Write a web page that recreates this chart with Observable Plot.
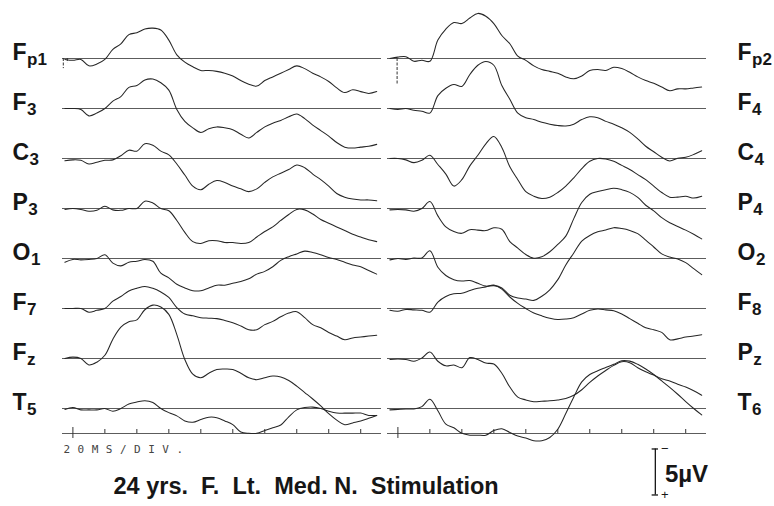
<!DOCTYPE html>
<html>
<head>
<meta charset="utf-8">
<script src="https://cdn.jsdelivr.net/npm/d3@7"></script>
<script src="https://cdn.jsdelivr.net/npm/@observablehq/plot@0.6"></script>
<style>
  html, body { margin: 0; padding: 0; background: #fff; }
  #chart { width: 774px; height: 506px; }
</style>
</head>
<body>
<div id="chart"></div>
<script>
// ---- data (µV, negative = up, EEG convention) ----
const times = [-5, 0, 5, 10, 15, 20, 25, 30, 35, 40, 45, 50, 55, 60, 65, 70, 75, 80, 85, 90,
               95, 100, 105, 110, 115, 120, 125, 130, 135, 140, 145, 150, 155, 160, 165, 170, 175, 180, 185, 190];

const leftChannels  = ["Fp1", "F3", "C3", "P3", "O1", "F7", "Fz", "T5"];
const rightChannels = ["Fp2", "F4", "C4", "P4", "O2", "F8", "Pz", "T6"];

const Fp1 = [0.1, 0.2, 0.1, 0.8, 0.6, 0.1, -1.0, -1.6, -2.6, -2.8, -3.2, -3.3, -3.1, -2.0, -0.4, 0.4, 0.9, 1.3, 1.3, 1.4,
             1.6, 1.9, 2.4, 2.8, 3.0, 2.4, 2.0, 1.6, 1.2, 0.8, 1.1, 1.6, 2.0, 2.5, 3.2, 3.7, 3.4, 3.6, 3.8, 3.6];
const F3  = [0, 0, 0.1, 0.8, 0.5, 0, -0.8, -1.3, -2.3, -2.5, -3.1, -3.2, -2.8, -2.0, 0.1, 1.4, 2.1, 2.6, 2.2, 2.0,
             2.1, 2.3, 2.8, 3.2, 2.6, 2.0, 1.6, 1.3, 0.9, 0.6, 1.1, 1.8, 2.4, 3.0, 3.7, 4.2, 4.3, 4.2, 4.1, 3.9];
const C3  = [0.25, 0.15, 0.2, 0.6, 0.4, 0.2, 0.15, -0.3, -0.9, -0.8, -1.6, -1.45, -0.8, -0.4, 0.6, 1.8, 3.0, 3.4, 2.8, 2.4,
             2.6, 3.0, 3.3, 3.6, 3.3, 2.6, 2.0, 1.6, 1.2, 0.7, 1.0, 1.7, 2.3, 3.0, 3.8, 4.2, 4.4, 4.5, 4.5, 4.6];
const P3  = [0.1, 0, 0.1, 0.3, 0.2, -0.25, 0.15, 0.2, 0, 0, -0.8, -0.6, 0, 0.25, 1.3, 2.6, 3.6, 3.8, 3.5, 3.5,
             3.7, 3.7, 3.8, 3.7, 3.1, 2.5, 2.0, 1.3, 0.65, 0.1, 0.15, 0.6, 1.2, 1.6, 2.0, 2.4, 2.8, 3.1, 3.4, 3.6];
const O1  = [0.4, 0.1, 0.15, 0.1, 0, -0.4, 0.5, 0.8, 0.4, 0.3, 0.1, 0.3, 1.6, 2.1, 2.8, 3.2, 3.5, 3.5, 3.2, 2.9,
             2.9, 2.7, 2.5, 2.2, 1.7, 1.4, 0.9, 0.2, -0.2, -0.5, -0.8, -0.65, -0.4, -0.1, 0.1, 0.4, 0.7, 0.9, 1.3, 1.7];
const F7  = [0, 0, 0, 0.4, 0.2, 0, -0.8, -1.3, -1.9, -2.2, -2.4, -2.2, -1.8, -1.2, -0.1, 0.6, 0.8, 1.0, 1.05, 1.1,
             1.3, 1.55, 1.9, 2.3, 2.3, 1.75, 1.4, 0.9, 0.5, 0.35, 1.0, 1.75, 2.1, 2.6, 3.0, 3.4, 3.2, 3.1, 3.0, 2.9];
const Fz  = [0, -0.15, 0, 0.7, 0.4, -0.35, -2.1, -3.4, -4.0, -4.2, -5.3, -5.8, -5.6, -4.8, -2.6, 0.1, 1.7, 2.1, 1.6, 1.2,
             1.15, 1.2, 1.6, 2.1, 2.3, 2.1, 1.9, 2.0, 2.4, 3.0, 3.7, 4.4, 5.15, 6.0, 6.7, 7.2, 7.0, 6.8, 6.5, 6.2];
const T5  = [0.1, -0.1, 0.15, 0.15, 0.15, 0, 0.3, 0, -0.5, -0.7, -0.85, -0.65, 0, 0.45, 0.8, 1.35, 1.5, 1.2, 0.95, 1.0,
             1.35, 1.75, 2.55, 2.7, 2.7, 2.4, 2.1, 1.8, 0.9, 0.15, -0.1, -0.15, 0, 0.3, 0.5, 0.5, 0.5, 0.5, 0.75, 0.75];

const Fp2 = [0, -0.15, -0.2, 0.3, 0.2, 0.3, -2.0, -3.2, -3.9, -3.8, -4.4, -4.9, -4.6, -3.8, -2.5, -1.6, -0.25, 0.2, 0.8, 1.2,
             1.4, 1.6, 2.0, 2.2, 1.9, 1.3, 1.2, 1.3, 0.95, 1.1, 1.5, 2.0, 2.4, 2.7, 3.1, 3.5, 3.3, 3.3, 3.2, 3.1];
const F4  = [0, 0.1, 0, 0.2, 0.3, 0.5, -1.4, -2.2, -2.6, -2.4, -3.7, -4.7, -5.1, -4.7, -2.5, -1.0, 0.5, 1.0, 1.2, 1.5,
             1.7, 1.85, 1.9, 1.7, 1.2, 0.9, 1.0, 1.4, 1.7, 2.1, 2.6, 3.3, 4.1, 4.7, 5.3, 5.7, 5.4, 5.3, 5.0, 4.6];
const C4  = [0, 0, 0.15, 0.45, 0.2, -0.35, 0.65, 1.7, 3.0, 2.3, 0.8, -0.35, -1.6, -2.4, -1.2, 0.9, 2.3, 3.6, 4.1, 4.35,
             4.2, 3.7, 3.0, 2.1, 1.1, 0.3, 0, 0.05, 0.3, 0.75, 1.2, 1.75, 2.3, 3.0, 3.7, 4.2, 4.2, 4.1, 4.3, 4.1];
const P4  = [0.15, 0.1, 0.15, 0.3, 0, -0.75, 0.8, 2.0, 2.5, 2.7, 2.3, 2.35, 2.4, 2.1, 2.25, 3.6, 4.3, 5.0, 5.4, 5.25,
             4.7, 3.9, 3.0, 1.1, -0.65, -1.55, -1.85, -2.05, -2.2, -2.05, -1.75, -1.2, -0.35, 0.25, 1.0, 1.55, 1.95, 2.35, 2.8, 3.3];
const O2  = [0.15, 0, 0.1, -0.05, -0.05, -0.85, 0.95, 1.85, 2.3, 2.45, 2.4, 2.7, 3.0, 2.95, 3.2, 4.0, 4.3, 4.4, 4.55, 4.1,
             3.4, 2.3, 0.7, -0.6, -1.9, -2.5, -2.9, -3.1, -3.35, -3.25, -3.05, -2.7, -2.0, -1.25, -0.5, -0.15, 0.05, 0.45, 1.1, 1.75];
const F8  = [0.2, 0.3, 0.1, 0.15, 0.2, 0.4, -0.7, -1.3, -1.6, -1.65, -1.95, -2.2, -2.35, -2.55, -2.1, -1.25, -0.55, 0, 0.5, 0.8,
             1.05, 1.2, 1.15, 1.0, 0.6, 0.2, 0.05, 0.15, 0.25, 0.6, 1.1, 1.6, 2.1, 2.3, 2.6, 3.4, 3.3, 3.1, 3.0, 2.85];
const Pz  = [0.1, 0.05, 0.1, 0.3, -0.05, -0.7, 0.3, 0.8, 0.7, 1.0, -0.1, 0.1, 0.5, 0.6, 1.6, 3.1, 4.2, 4.5, 4.7, 4.65,
             4.6, 4.5, 4.35, 4.0, 3.4, 2.6, 1.9, 1.3, 0.75, 0.35, 0.45, 1.0, 1.45, 1.8, 2.2, 2.45, 2.8, 3.1, 3.5, 4.0];
const T6  = [0.15, 0.1, 0.05, 0.05, -0.2, -1.0, 0.25, 1.7, 2.1, 2.7, 2.9, 2.9, 2.9, 2.4, 2.2, 2.6, 3.0, 3.2, 3.5, 3.5,
             3.15, 2.25, 0.55, -1.25, -2.9, -3.7, -4.1, -4.45, -4.8, -5.2, -5.15, -4.8, -4.3, -3.7, -3.0, -2.3, -1.55, -0.75, 0, 0.7];

// stimulus artifacts at the start of the sweeps
const artifactChannels = ["Fp1", "Fp1", "Fp2"];
const artifactTimes    = [-6, -3.5, -0.5];
const artifactValues   = [1.1, 0.5, 2.8];

const tickTimes = [0, 20, 40, 60, 80, 100, 120, 140, 160, 180];
const timeUnitLabel = "20MS/DIV.";
const titleText = "24 yrs.\u00a0 F.\u00a0 Lt.\u00a0 Med. N.\u00a0 Stimulation";
const scaleBarMicrovolts = 5;
const scaleBarUnit = "5µV";

// ---- build tables ----
const values = {Fp1, F3, C3, P3, O1, F7, Fz, T5, Fp2, F4, C4, P4, O2, F8, Pz, T6};
const panels = [["L", leftChannels], ["R", rightChannels]];
const sideOf = {}, rowOf = {};
panels.forEach(([side, chans]) => chans.forEach((ch, row) => { sideOf[ch] = side; rowOf[ch] = row; }));

const rows = [];
panels.forEach(([side, chans]) => chans.forEach((ch, row) =>
  values[ch].forEach((v, i) => rows.push({side, row, ch, t: times[i], v}))));

const labels = [];
panels.forEach(([side, chans]) => chans.forEach((ch, row) =>
  labels.push({side, row, ch, main: ch[0], sub: ch.slice(1)})));

const artifacts = artifactChannels.map((ch, i) => ({side: sideOf[ch], row: rowOf[ch], t: artifactTimes[i], v: artifactValues[i]}));
const ticks = ["L", "R"].flatMap(side => tickTimes.map(t => ({side, row: 7, t})));
const lastRows = ["L", "R"].map(side => ({side, row: 7}));

// ---- layout ----
const pxPerUV = 9.2;
const yMax = 25 / pxPerUV;            // half row (50 px rows)
const xDomain = [-6.5, 193];
const font = '"Liberation Sans", Arial, Helvetica, sans-serif';
const ink = "#161616";

const canvas = document.createElement("canvas");
const ctx = canvas.getContext("2d");
ctx.font = `bold 23px "Liberation Sans"`;
const measure = s => ctx.measureText(s).width;

const barT = 161;
const barLo = 4.4, barHi = barLo + scaleBarMicrovolts;
const scaleRow = [{side: "R", row: 7}];

const labelMarks = labels.flatMap(d => {
  const base = d.side === "L" ? -50 : 31;
  const anchor = d.side === "L" ? "left" : "right";
  const w = measure(d.main);
  return [
    Plot.text([d], {fx: "side", fy: "row", y: () => 0, frameAnchor: anchor, dx: base, dy: 1,
      text: "main", textAnchor: "start", lineAnchor: "bottom", fontSize: 23, fontWeight: "bold",
      fontFamily: font, fill: ink}),
    Plot.text([d], {fx: "side", fy: "row", y: () => 0, frameAnchor: anchor, dx: base + w + 0.5, dy: 6,
      text: "sub", textAnchor: "start", lineAnchor: "bottom", fontSize: 17, fontWeight: "bold",
      fontFamily: font, fill: ink})
  ];
});

const chart = Plot.plot({
  width: 774,
  height: 506,
  marginTop: 33,
  marginBottom: 73,
  marginLeft: 62,
  marginRight: 68,
  style: {background: "#fff"},
  fx: {domain: ["L", "R"], paddingInner: 0.0185, paddingOuter: 0, axis: null, label: null},
  fy: {domain: d3.range(8), padding: 0, axis: null, label: null},
  x: {domain: xDomain, axis: null},
  y: {domain: [-yMax, yMax], reverse: true, axis: null},
  marks: [
    Plot.ruleY([0], {stroke: "#4a4a4a", strokeWidth: 0.9}),
    Plot.ruleY(lastRows, {fx: "side", fy: "row", y: () => yMax, stroke: "#4a4a4a", strokeWidth: 0.9}),
    Plot.ruleX(ticks, {fx: "side", fy: "row", x: "t",
      y1: d => d.t === 0 ? yMax - 6 / pxPerUV : yMax - 4 / pxPerUV,
      y2: d => d.t === 0 ? yMax + 5 / pxPerUV : yMax,
      stroke: "#333", strokeWidth: 1}),
    Plot.ruleX(artifacts, {fx: "side", fy: "row", x: "t", y1: () => 0, y2: "v",
      stroke: "#333", strokeWidth: 1, strokeDasharray: "3,1.5"}),
    Plot.line(rows, {fx: "side", fy: "row", x: "t", y: "v", z: "ch", curve: "catmull-rom",
      stroke: "#262626", strokeWidth: 1.05}),
    ...labelMarks,
    Plot.text([{side: "L", row: 7}], {fx: "side", fy: "row", frameAnchor: "bottom-left", dx: 1, dy: 16,
      text: () => timeUnitLabel, textAnchor: "start", lineAnchor: "middle",
      fontFamily: '"DejaVu Sans Mono", monospace', fontSize: 11, fill: "#444"}),
    Plot.text([{side: "L", row: 7}], {fx: "side", fy: "row", frameAnchor: "bottom-left", dx: 51, dy: 60,
      text: () => titleText, textAnchor: "start", lineAnchor: "bottom",
      fontFamily: font, fontSize: 23.5, fontWeight: "bold", fill: ink}),
    // 5 µV calibration bar
    Plot.ruleX(scaleRow, {fx: "side", fy: "row", x: () => barT, y1: () => barLo, y2: () => barHi, stroke: ink, strokeWidth: 1.3}),
    Plot.ruleY(scaleRow, {fx: "side", fy: "row", y: () => barLo, x1: () => barT - 2, x2: () => barT + 2, stroke: ink, strokeWidth: 1.3}),
    Plot.ruleY(scaleRow, {fx: "side", fy: "row", y: () => barHi, x1: () => barT - 2, x2: () => barT + 2, stroke: ink, strokeWidth: 1.3}),
    Plot.text(scaleRow, {fx: "side", fy: "row", x: () => barT + 3.5, y: () => barLo, text: () => "−",
      textAnchor: "start", lineAnchor: "middle", fontFamily: font, fontSize: 13, fill: ink}),
    Plot.text(scaleRow, {fx: "side", fy: "row", x: () => barT + 3.5, y: () => barHi, text: () => "+",
      textAnchor: "start", lineAnchor: "middle", fontFamily: font, fontSize: 13, fill: ink}),
    Plot.text(scaleRow, {fx: "side", fy: "row", x: () => barT + 6, y: () => (barLo + barHi) / 2 + 0.3,
      text: () => scaleBarUnit, textAnchor: "start", lineAnchor: "middle",
      fontFamily: font, fontSize: 24, fontWeight: "bold", fill: ink})
  ]
});

// widen the recorder's time-base legend like the original print-out
chart.querySelectorAll("text").forEach(t => {
  if (t.textContent === timeUnitLabel) t.setAttribute("letter-spacing", "7.5");
});

document.getElementById("chart").appendChild(chart);
</script>
</body>
</html>
